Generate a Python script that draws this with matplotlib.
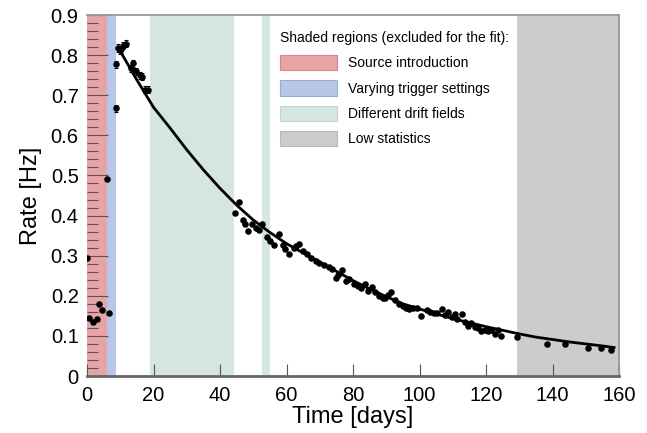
import matplotlib
matplotlib.use("Agg")
import matplotlib.pyplot as plt
from matplotlib.patches import Patch
import numpy as np

plt.rcParams['font.family'] = ['Liberation Sans', 'DejaVu Sans']

# measured rate vs time
t_days = [0.0, 0.7, 1.9, 2.9, 3.7, 4.6, 6.0, 6.7,
          8.8, 8.8, 9.3, 9.8, 10.3, 10.9, 11.6, 13.2, 13.7, 14.8, 15.8, 16.6, 17.5, 18.3,
          44.6, 45.7, 46.8, 47.5, 48.5, 49.7, 50.7, 51.7, 52.6, 54.0, 55.1, 56.3, 57.6,
          58.8, 59.6, 60.6, 62.1, 62.8, 63.7, 64.9, 66.3, 67.5, 68.8, 69.9, 71.3, 72.7,
          73.6, 74.8, 75.5, 76.6, 77.8, 78.8, 80.3, 81.5, 82.3, 83.6, 84.6, 85.7, 86.7,
          87.9, 88.9, 89.6, 90.6, 91.5, 92.6, 93.8, 94.9, 95.9, 96.9, 97.9, 99.3,
          100.4, 102.2, 103.2, 104.2, 105.4, 106.7, 107.7, 108.7, 109.9, 110.7, 111.4,
          112.7, 113.7, 114.7, 115.5, 116.7, 117.6, 118.6, 119.6, 120.6, 121.6, 122.8,
          123.5, 124.5, 129.4, 138.4, 143.7, 150.6, 154.5, 157.7]
rate = [0.293, 0.144, 0.135, 0.142, 0.180, 0.164, 0.490, 0.158,
        0.667, 0.777, 0.818, 0.812, 0.815, 0.824, 0.829, 0.767, 0.780, 0.760, 0.750, 0.746, 0.714, 0.714,
        0.407, 0.433, 0.388, 0.378, 0.362, 0.380, 0.370, 0.365, 0.380, 0.347, 0.336, 0.327, 0.353,
        0.326, 0.317, 0.303, 0.318, 0.323, 0.330, 0.311, 0.303, 0.294, 0.287, 0.282, 0.276, 0.271,
        0.268, 0.244, 0.251, 0.265, 0.238, 0.242, 0.230, 0.224, 0.219, 0.229, 0.213, 0.221, 0.209,
        0.200, 0.194, 0.195, 0.202, 0.210, 0.190, 0.180, 0.174, 0.170, 0.167, 0.169, 0.170,
        0.150, 0.164, 0.160, 0.156, 0.158, 0.167, 0.153, 0.160, 0.148, 0.154, 0.142,
        0.154, 0.134, 0.124, 0.131, 0.121, 0.119, 0.111, 0.115, 0.113, 0.115, 0.106,
        0.114, 0.099, 0.098, 0.081, 0.080, 0.069, 0.070, 0.066]
rate_err = [0.0] * 8 + [0.009] * 14 + [0.0] * (len(t_days) - 22)

# fit curve
fit_t = [9.5, 12, 15, 20, 25, 30, 35, 40, 45, 50, 55, 60, 65, 70, 75, 80, 85, 90,
         95, 100, 105, 110, 115, 120, 125, 130, 135, 140, 145, 150, 155, 158.5]
fit_rate = [0.817, 0.781, 0.738, 0.670, 0.618, 0.564, 0.514, 0.468, 0.426, 0.389,
            0.358, 0.330, 0.307, 0.284, 0.261, 0.238, 0.217, 0.198, 0.180, 0.167,
            0.155, 0.143, 0.133, 0.123, 0.114, 0.105, 0.097, 0.091, 0.085, 0.080,
            0.075, 0.071]

# shaded regions (days)
regions = [("Source introduction", [(0, 6.0)], "#e8a3a7", "#d98589"),
           ("Varying trigger settings", [(6.0, 8.8)], "#b8c6e8", "#98acd8"),
           ("Different drift fields", [(19.0, 44.2), (52.6, 54.9)], "#d5e6e1", "#c0d6cf"),
           ("Low statistics", [(129.2, 160)], "#cccccc", "#b8b8b8")]

fig = plt.figure(figsize=(6.47, 4.33), dpi=100)
ax = fig.add_axes([0.1345, 0.1316, 0.8223, 0.8337])

for name, spans, col, ecol in regions:
    for a, b in spans:
        ax.axvspan(a, b, color=col, lw=0, zorder=0)

ax.plot(fit_t, fit_rate, color="black", lw=2.0, zorder=3)
ax.errorbar(t_days, rate, yerr=rate_err, fmt="o", color="black", ms=3.7,
            elinewidth=0.8, capsize=1.5, capthick=0.8, zorder=4)

ax.set_xlim(0, 160)
ax.set_ylim(0, 0.9)
ax.set_xticks(np.arange(0, 161, 20))
ax.set_yticks(np.arange(0, 0.91, 0.1))
ax.set_yticklabels(["0", "0.1", "0.2", "0.3", "0.4", "0.5", "0.6", "0.7", "0.8", "0.9"])
ax.set_yticks(np.arange(0, 0.9, 0.02), minor=True)
ax.tick_params(axis="both", which="major", direction="in", labelsize=14.5, color="#555555",
               width=0.8)
ax.tick_params(axis="x", which="major", length=9, top=False, pad=7)
ax.tick_params(axis="y", which="major", length=15, right=False, pad=6)
ax.tick_params(axis="y", which="minor", direction="in", length=8, color="#555555",
               width=0.8, right=False)

for s in ["top", "right"]:
    ax.spines[s].set_color("#999999")
    ax.spines[s].set_linewidth(1.3)
ax.spines["left"].set_visible(False)
ax.spines["bottom"].set_color("#666666")
ax.spines["bottom"].set_linewidth(2)

ax.set_xlabel("Time [days]", fontsize=17, labelpad=1)
ax.set_ylabel("Rate [Hz]", fontsize=17, labelpad=6)

handles = [Patch(facecolor=col, edgecolor=ecol, lw=0.8) for _, _, col, ecol in regions]
labels = [r[0] for r in regions]
leg = ax.legend(handles, labels, title="Shaded regions (excluded for the fit):",
                loc="upper left", bbox_to_anchor=(0.362, 0.955), frameon=False,
                fontsize=10, title_fontsize=10, handlelength=4.1, handleheight=1.3,
                labelspacing=0.72, handletextpad=0.85, borderpad=0, borderaxespad=0,
                alignment="left")

fig.savefig("out.png", dpi=100)
